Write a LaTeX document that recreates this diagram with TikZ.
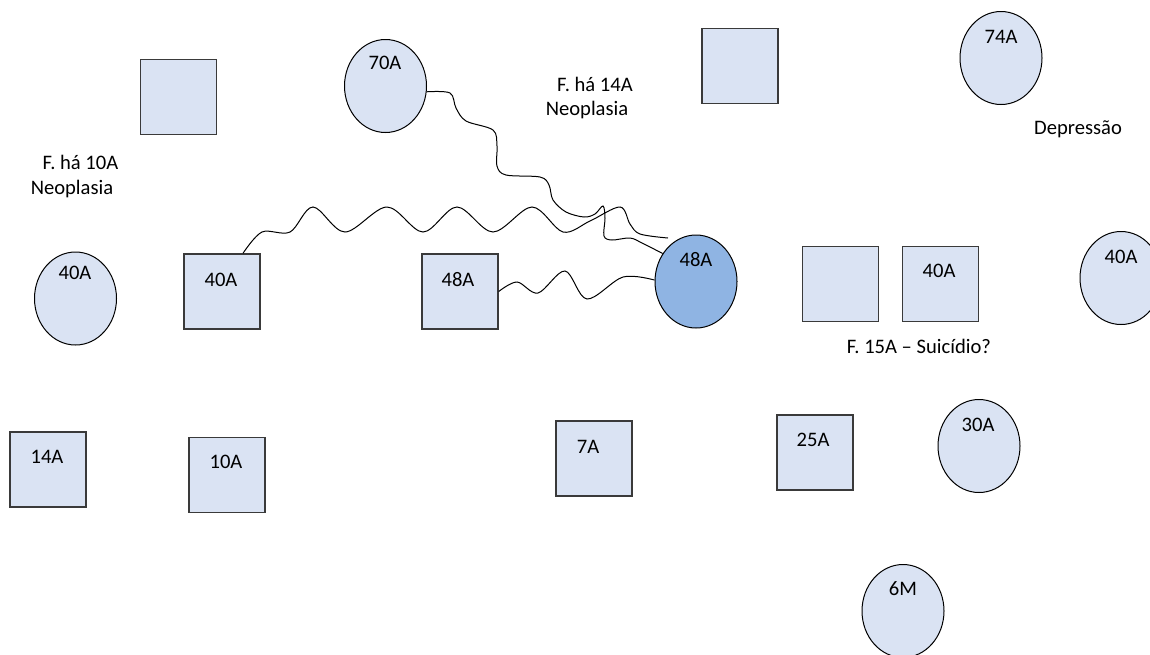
\documentclass[tikz,border=0pt]{standalone}
\usepackage{fontspec}
\setmainfont{Carlito}
\usetikzlibrary{shapes.geometric}
\definecolor{palefill}{HTML}{DAE3F3}
\definecolor{bluefill}{HTML}{8FB4E3}
\definecolor{boxline}{HTML}{3A3A3A}
\tikzset{
  male/.style={rectangle, draw=boxline, line width=0.7pt, fill=palefill,
    minimum width=38pt, minimum height=37.5pt, inner sep=0pt},
  female/.style={ellipse, draw=black, line width=0.5pt, fill=palefill,
    minimum width=41pt, minimum height=46.5pt, inner sep=0pt},
  index/.style={female, fill=bluefill},
  lbl/.style={anchor=base, inner sep=0pt, text=black,
    font=\fontsize{10.3}{12.4}\selectfont},
  bond/.style={draw=black, line width=0.5pt}
}
\begin{document}
\begin{tikzpicture}[x=0.5pt, y=-0.5pt]
\useasboundingbox (0,0) rectangle (1150,654);
\clip (0,0) rectangle (1150,654);

% individuals
\node[male]   (sqTL) at (178.5,97)  {};
\node[male]   (sqTM) at (740,66)    {};
\node[female] (e70)  at (385.5,86)  {};
\node[female] (e74)  at (1001,58)   {};
\node[female] (e40L) at (75.5,298.5){};
\node[male]   (sqB)  at (222,291.5) {};
\node[male]   (sqC)  at (460,291.5) {};
\node[index]  (eIdx) at (696,281.5) {};
\node[male]   (sqR1) at (840.5,284) {};
\node[male]   (sqR2) at (940.5,284) {};
\node[female] (e40R) at (1121,278)  {};
\node[male]   (sq14) at (48,469.5)  {};
\node[male]   (sq10) at (227,475)   {};
\node[male]   (sq7)  at (594,458.5) {};
\node[male]   (sq25) at (815,452.5) {};
\node[female] (e30)  at (979,446)   {};
\node[female] (e6M)  at (903,611)   {};

% ages and notes
\node[lbl] (t70)   at (385,69.5)   {70A};
\node[lbl] (t74)   at (1001,43.5)  {74A};
\node[lbl] (tDep)  at (1078,134.5) {Depressão};
\node[lbl] (tF14)  at (595,91.5)   {F. há 14A};
\node[lbl] (tN14)  at (587,115.5)  {Neoplasia};
\node[lbl] (tF10)  at (80.5,169.5) {F. há 10A};
\node[lbl] (tN10)  at (72,194.5)   {Neoplasia};
\node[lbl] (t40L)  at (75,279.5)   {40A};
\node[lbl] (t40B)  at (221,286.5)  {40A};
\node[lbl] (t48C)  at (458,286.5)  {48A};
\node[lbl] (t48I)  at (696,266.5)  {48A};
\node[lbl] (t40R2) at (939,277.5)  {40A};
\node[lbl] (t40R)  at (1121,263.5) {40A};
\node[lbl] (tF15)  at (919,353.5)  {F. 15A – Suicídio?};
\node[lbl] (t14)   at (47,463.5)   {14A};
\node[lbl] (t10)   at (226,468.5)  {10A};
\node[lbl] (t7)    at (588,453.5)  {7A};
\node[lbl] (t25)   at (813,446.5)  {25A};
\node[lbl] (t30)   at (978,431.5)  {30A};
\node[lbl] (t6M)   at (903,595.5)  {6M};

% loose end of the long wavy line
\coordinate (bEnd) at (668,238);

% wavy relationship lines
\draw[bond] plot[smooth, tension=0.55] coordinates {
  ([xshift=10.5pt]sqB.north) (262,232) (290,232) (313,207) (345,232)
  (387,207) (423,232) (457,207) (493,232) (532,207) (563,232)
  (590,221) (620,207) (630,224) (640,234) (bEnd)};

\draw[bond] plot[smooth, tension=0.55] coordinates {
  (e70.-8) (450,93) (456,108) (466,121) (493,130) (497,146)
  (497,166) (506,175) (540,177) (549,185) (553,200) (566,212)
  (584,217) (595,214) (603,206) (605,218) (604,236) (612,240)
  (630,238) (642,243) (eIdx.140)};

\draw[bond] plot[smooth, tension=0.55] coordinates {
  (sqC.east) (517,282) (538,293) (565,271) (587,299) (623,277)
  (eIdx.178)};
\end{tikzpicture}
\end{document}
